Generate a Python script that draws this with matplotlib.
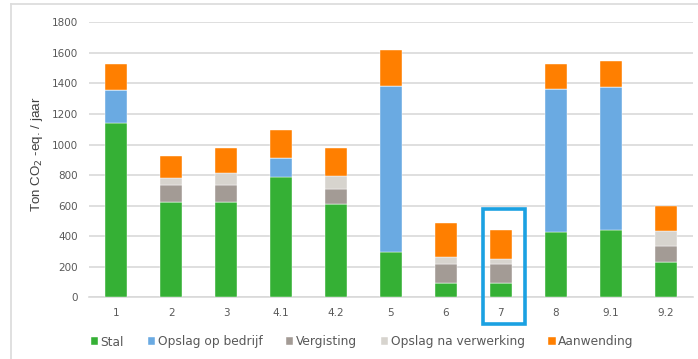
import matplotlib.pyplot as plt
import numpy as np
from matplotlib.patches import Rectangle

categorieen = ['1', '2', '3', '4.1', '4.2', '5', '6', '7', '8', '9.1', '9.2']
stal = [1140, 623, 623, 788, 608, 298, 93, 93, 429, 438, 233]
opslag_bedrijf = [217, 0, 0, 122, 0, 1088, 0, 0, 937, 941, 0]
vergisting = [0, 110, 109, 0, 100, 0, 127, 127, 0, 0, 102]
opslag_verwerking = [0, 48, 82, 0, 89, 0, 41, 30, 0, 0, 100]
aanwending = [172, 141, 164, 188, 181, 230, 223, 192, 163, 167, 164]

reeksen = ['Stal', 'Opslag op bedrijf', 'Vergisting', 'Opslag na verwerking', 'Aanwending']
kleuren = ['#35B035', '#6AAAE2', '#A39B95', '#D7D4CE', '#FF7F00']

fig = plt.figure(figsize=(6.98, 3.59), dpi=100)
ax = fig.add_axes([0.1275, 0.1718, 0.8653, 0.7661])

x = np.arange(len(categorieen))
data = [stal, opslag_bedrijf, vergisting, opslag_verwerking, aanwending]
bottom = np.zeros(len(categorieen))
for naam, waarden, kleur in zip(reeksen, data, kleuren):
    waarden = np.array(waarden, dtype=float)
    ax.bar(x, waarden, 0.4, bottom=bottom, color=kleur, label=naam,
           edgecolor='white', linewidth=0.3, zorder=3)
    bottom += waarden

ax.set_xlim(-0.5, len(categorieen) - 0.5)
ax.set_ylim(0, 1800)
ax.set_yticks(np.arange(0, 1801, 200))
ax.set_xticks(x)
ax.set_xticklabels(categorieen)
ax.tick_params(axis='both', length=0, labelsize=7.5, labelcolor='#595959')
ax.tick_params(axis='y', pad=8)
ax.tick_params(axis='x', pad=8)
ax.grid(axis='y', color='#D9D9D9', linewidth=1.2, zorder=0)
for s in ['top', 'right', 'left']:
    ax.spines[s].set_visible(False)
ax.spines['bottom'].set_color('#D9D9D9')
ax.spines['bottom'].set_linewidth(1.2)

ax.set_ylabel('Ton CO$_2$ -eq. / jaar', fontsize=9.6, color='#404040',
              family='Liberation Sans', labelpad=3)
ax.yaxis.set_label_coords(-0.073, 0.52)

# kader rond scenario 7
ax.add_patch(Rectangle((6.67, -176), 0.77, 751, fill=False, edgecolor='#1BA1E2',
                       linewidth=2.6, clip_on=False, zorder=5))

# rand van de grafiek
fig.add_artist(plt.Line2D([11 / 698, 11 / 698], [0, 1 - 4 / 359], color='#DDDDDD',
                          linewidth=1.3, transform=fig.transFigure))
fig.add_artist(plt.Line2D([11 / 698, 1], [1 - 4 / 359, 1 - 4 / 359], color='#DDDDDD',
                          linewidth=1.3, transform=fig.transFigure))

leg = fig.legend(loc='center', bbox_to_anchor=(0.519, 1 - 342 / 359), ncol=5, frameon=False,
                 fontsize=8.8, handlelength=0.6, handleheight=0.6, handletextpad=0.2,
                 columnspacing=1.95, labelcolor='#595959')

fig.savefig('out.png', dpi=100)
